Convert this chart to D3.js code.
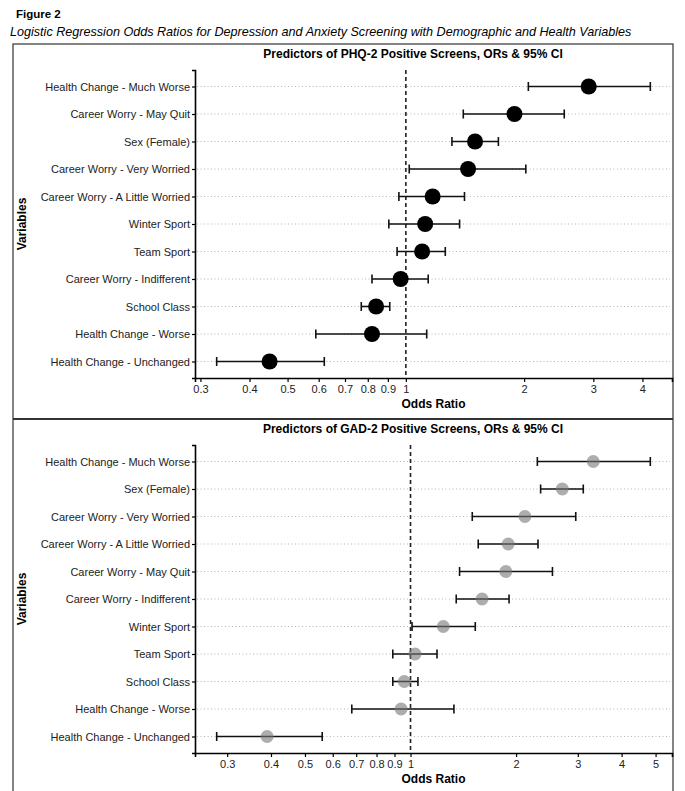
<html>
<head>
<meta charset="utf-8">
<title>Figure 2</title>
<script src="https://d3js.org/d3.v7.min.js"></script>
<style>
	body { margin: 0; background: #fff; }
	text { font-family: "Liberation Sans", Arial, sans-serif; }
</style>
</head>
<body>
<script>

// Data (top to bottom as in the figure)
var phqVars = ["Health Change - Much Worse", "Career Worry - May Quit", "Sex (Female)",
	"Career Worry - Very Worried", "Career Worry - A Little Worried", "Winter Sport",
	"Team Sport", "Career Worry - Indifferent", "School Class", "Health Change - Worse",
	"Health Change - Unchanged"];
var phqOR   = [2.92, 1.89, 1.50, 1.44, 1.17, 1.12, 1.10, 0.97, 0.84, 0.82, 0.45];
var phqLow  = [2.05, 1.40, 1.31, 1.02, 0.96, 0.905, 0.95, 0.82, 0.77, 0.59, 0.33];
var phqHigh = [4.19, 2.53, 1.72, 2.02, 1.41, 1.37, 1.26, 1.14, 0.91, 1.13, 0.62];
var phqTicks = [0.3, 0.4, 0.5, 0.6, 0.7, 0.8, 0.9, 1, 2, 3, 4];

var gadVars = ["Health Change - Much Worse", "Sex (Female)", "Career Worry - Very Worried",
	"Career Worry - A Little Worried", "Career Worry - May Quit", "Career Worry - Indifferent",
	"Winter Sport", "Team Sport", "School Class", "Health Change - Worse",
	"Health Change - Unchanged"];
var gadOR   = [3.32, 2.71, 2.12, 1.90, 1.87, 1.60, 1.24, 1.03, 0.96, 0.94, 0.39];
var gadLow  = [2.30, 2.35, 1.50, 1.56, 1.38, 1.35, 1.01, 0.89, 0.89, 0.68, 0.28];
var gadHigh = [4.83, 3.11, 2.96, 2.31, 2.54, 1.91, 1.53, 1.19, 1.05, 1.33, 0.56];
var gadTicks = [0.3, 0.4, 0.5, 0.6, 0.7, 0.8, 0.9, 1, 2, 3, 4, 5];

// Layout
var width = 685, height = 791;
var boxLeft = 13, boxRight = 673, boxTop = 44, boxMid = 419;
var plotLeft = 195, plotRight = 672;

var svg = d3.select("body").append("svg")
	.attr("width", width)
	.attr("height", height);

svg.append("text")
	.attr("x", 16).attr("y", 18)
	.attr("font-size", 11.5).attr("font-weight", "bold")
	.text("Figure 2");

svg.append("text")
	.attr("x", 10).attr("y", 36)
	.attr("font-size", 12.6).attr("font-style", "italic")
	.text("Logistic Regression Odds Ratios for Depression and Anxiety Screening with Demographic and Health Variables");

// outer frame + separator
svg.append("rect")
	.attr("x", boxLeft).attr("y", boxTop)
	.attr("width", boxRight - boxLeft).attr("height", height)
	.attr("fill", "none").attr("stroke", "#333").attr("stroke-width", 1.2);
svg.append("line")
	.attr("x1", boxLeft).attr("x2", boxRight)
	.attr("y1", boxMid).attr("y2", boxMid)
	.attr("stroke", "#333").attr("stroke-width", 1.8);

drawPanel(boxTop, "Predictors of PHQ-2 Positive Screens, ORs & 95% CI",
	phqVars, phqOR, phqLow, phqHigh, phqTicks, "#000", 8, 1);
drawPanel(boxMid, "Predictors of GAD-2 Positive Screens, ORs & 95% CI",
	gadVars, gadOR, gadLow, gadHigh, gadTicks, "#777", 6.5, 0.6);

function drawPanel(top, title, vars, or, low, high, ticks, color, r, opacity) {
	var yTop = top + 26, yBottom = top + 334;
	var g = svg.append("g");

	// log scale with 5% expansion like ggplot
	var lo = Math.log(d3.min(low)), hi = Math.log(d3.max(high));
	var pad = (hi - lo) * 0.05;
	var x = d3.scaleLog()
		.domain([Math.exp(lo - pad), Math.exp(hi + pad)])
		.range([plotLeft, plotRight]);

	var y = d3.scalePoint()
		.domain(vars)
		.range([yTop, yBottom])
		.padding(0.6);

	g.append("text")
		.attr("x", 413).attr("y", top + 14)
		.attr("text-anchor", "middle")
		.attr("font-size", 12).attr("font-weight", "bold")
		.text(title);

	// dotted grid
	g.append("g").selectAll("line")
		.data(vars)
		.join("line")
			.attr("x1", plotLeft + 2).attr("x2", plotRight - 2)
			.attr("y1", d => y(d)).attr("y2", d => y(d))
			.attr("stroke", "#b4b4b4").attr("stroke-width", 1)
			.attr("stroke-dasharray", "1,2.5");

	// reference line at OR = 1
	g.append("line")
		.attr("x1", x(1)).attr("x2", x(1))
		.attr("y1", yTop).attr("y2", yBottom)
		.attr("stroke", "#222").attr("stroke-width", 1.6)
		.attr("stroke-dasharray", "4,3");

	// axes
	var xAxis = g.append("g")
		.attr("transform", "translate(0," + yBottom + ")")
		.call(d3.axisBottom(x).tickValues(ticks).tickFormat(d3.format("")).tickSizeOuter(0).tickSize(4).tickPadding(3));
	var yAxis = g.append("g")
		.attr("transform", "translate(" + plotLeft + ",0)")
		.call(d3.axisLeft(y).tickSizeOuter(0).tickSize(3).tickPadding(2));
	[xAxis, yAxis].forEach(function(a) {
		a.select(".domain").attr("stroke", "#000").attr("stroke-width", 1.6);
		a.selectAll(".tick line").attr("stroke", "#000").attr("stroke-width", 1.2);
		a.selectAll(".tick text").attr("fill", "#222").attr("font-size", 11)
			.attr("font-family", "Liberation Sans, Arial, sans-serif");
	});

	// error bars
	var idx = d3.range(vars.length);
	var bars = g.append("g").attr("stroke", "#111").attr("stroke-width", 1.6);
	bars.selectAll(".ci")
		.data(idx)
		.join("line")
			.attr("x1", i => x(low[i])).attr("x2", i => x(high[i]))
			.attr("y1", i => y(vars[i])).attr("y2", i => y(vars[i]));
	bars.selectAll(".capL")
		.data(idx)
		.join("line")
			.attr("x1", i => x(low[i])).attr("x2", i => x(low[i]))
			.attr("y1", i => y(vars[i]) - 4.5).attr("y2", i => y(vars[i]) + 4.5);
	bars.selectAll(".capR")
		.data(idx)
		.join("line")
			.attr("x1", i => x(high[i])).attr("x2", i => x(high[i]))
			.attr("y1", i => y(vars[i]) - 4.5).attr("y2", i => y(vars[i]) + 4.5);

	// points
	g.append("g").selectAll("circle")
		.data(idx)
		.join("circle")
			.attr("cx", i => x(or[i]))
			.attr("cy", i => y(vars[i]))
			.attr("r", r)
			.attr("fill", color)
			.attr("fill-opacity", opacity);

	// axis titles
	g.append("text")
		.attr("x", (plotLeft + plotRight) / 2).attr("y", yBottom + 30)
		.attr("text-anchor", "middle")
		.attr("font-size", 12).attr("font-weight", "bold")
		.text("Odds Ratio");
	g.append("text")
		.attr("transform", "translate(26," + ((yTop + yBottom) / 2) + ") rotate(-90)")
		.attr("text-anchor", "middle")
		.attr("font-size", 12).attr("font-weight", "bold")
		.text("Variables");
}

</script>
</body>
</html>
